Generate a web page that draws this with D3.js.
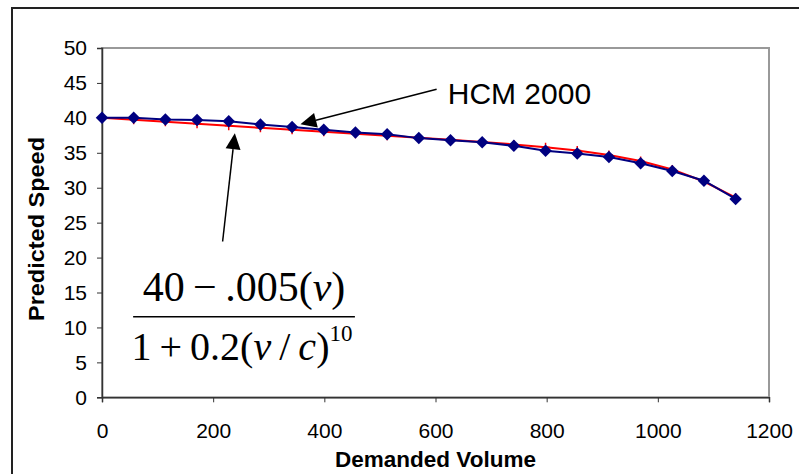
<!DOCTYPE html>
<html>
<head>
<meta charset="utf-8">
<script src="https://cdn.jsdelivr.net/npm/d3@7"></script>
<style>
  body { margin: 0; background: #fff; }
  svg { display: block; }
</style>
</head>
<body>
<svg id="chart"></svg>
<script>
// demanded volume (veh) for every point of both series
const volume = [0, 57, 114, 171, 228, 285, 342, 399, 456, 513, 570, 627, 684, 741, 798, 855, 912, 969, 1026, 1083, 1140]
// HCM 2000 predicted speed (blue diamonds)
const hcm = [40, 40, 39.75, 39.7, 39.5, 39.05, 38.7, 38.3, 37.9, 37.65, 37.1, 36.8, 36.5, 36.0, 35.3, 34.9, 34.4, 33.5, 32.4, 31.0, 28.4]
// fitted curve (red, plus markers)
const fitted = [40, 39.72, 39.43, 39.15, 38.86, 38.58, 38.29, 38.0, 37.72, 37.43, 37.14, 36.85, 36.54, 36.2, 35.81, 35.33, 34.69, 33.82, 32.6, 30.89, 28.58]

const xTicks = [0, 200, 400, 600, 800, 1000, 1200]
const yTicks = [0, 5, 10, 15, 20, 25, 30, 35, 40, 45, 50]

const width = 799
const height = 474
const font = "'Liberation Sans', Arial, sans-serif"
const serif = "'Liberation Serif', 'Times New Roman', serif"

const svg = d3.select('#chart')
    .attr('width', width)
    .attr('height', height)

// outer chart frame (runs off the right and bottom edges)
svg.append('rect')
    .attr('x', 12).attr('y', 8)
    .attr('width', 800).attr('height', 480)
    .attr('fill', '#fff')
    .attr('stroke', '#222')
    .attr('stroke-width', 2)

const x = d3.scaleLinear().domain([0, 1200]).range([102, 769])
const y = d3.scaleLinear().domain([0, 50]).range([397.3, 48])

// plot area border
svg.append('rect')
    .attr('x', x(0)).attr('y', y(50))
    .attr('width', x(1200) - x(0)).attr('height', y(0) - y(50))
    .attr('fill', 'none')
    .attr('stroke', '#999')
    .attr('stroke-width', 2)

const yAxis = svg.append('g')
    .attr('transform', `translate(${x(0)},0)`)
    .call(d3.axisLeft(y).tickValues(yTicks).tickFormat(d3.format('d')).tickSize(5).tickPadding(10))
const xAxis = svg.append('g')
    .attr('transform', `translate(0,${y(0)})`)
    .call(d3.axisBottom(x).tickValues(xTicks).tickFormat(d3.format('d')).tickSize(5).tickPadding(21))

for (const ax of [xAxis, yAxis]) {
    ax.select('.domain').attr('stroke', '#333').attr('stroke-width', 1.5)
    ax.selectAll('.tick line').attr('stroke', '#333').attr('stroke-width', 1)
    ax.selectAll('.tick text')
        .attr('fill', '#000')
        .style('font-family', font)
        .style('font-size', '21px')
}

// axis titles
svg.append('text')
    .attr('x', (x(0) + x(1200)) / 2)
    .attr('y', 467)
    .attr('text-anchor', 'middle')
    .style('font-family', font)
    .style('font-size', '22.5px')
    .style('font-weight', 'bold')
    .text('Demanded Volume')

svg.append('text')
    .attr('transform', `translate(44,229) rotate(-90)`)
    .attr('text-anchor', 'middle')
    .attr('textLength', 184)
    .attr('lengthAdjust', 'spacingAndGlyphs')
    .style('font-family', font)
    .style('font-size', '21.5px')
    .style('font-weight', 'bold')
    .text('Predicted Speed')

const pts = (vals) => volume.map((v, i) => [v, vals[i]])
const line = d3.line().x((d) => x(d[0])).y((d) => y(d[1]))

// fitted curve (drawn first, sits under the HCM series)
svg.append('path')
    .datum(pts(fitted))
    .attr('d', line)
    .attr('fill', 'none')
    .attr('stroke', '#ff0000')
    .attr('stroke-width', 2)

svg.append('g')
    .selectAll('path')
    .data(pts(fitted))
    .join('path')
    .attr('d', (d) => `M${x(d[0]) - 4},${y(d[1])}h8M${x(d[0])},${y(d[1]) - 4.5}v9`)
    .attr('stroke', '#ff0000')
    .attr('stroke-width', 1.5)

// HCM 2000 series
svg.append('path')
    .datum(pts(hcm))
    .attr('d', line)
    .attr('fill', 'none')
    .attr('stroke', '#000080')
    .attr('stroke-width', 2)

svg.append('g')
    .selectAll('path')
    .data(pts(hcm))
    .join('path')
    .attr('d', d3.symbol(d3.symbolSquare, 78))
    .attr('transform', (d) => `translate(${x(d[0])},${y(d[1])}) rotate(45)`)
    .attr('fill', '#000080')

// annotation arrows, given in data units: [fromV, fromS, toV, toS]
const arrows = [
    [602, 44.1, 357, 39.1],
    [217, 22.3, 239, 37.8]
]
const drawArrow = (a) => {
    const x1 = x(a[0]), y1 = y(a[1]), x2 = x(a[2]), y2 = y(a[3])
    const ang = Math.atan2(y2 - y1, x2 - x1)
    const len = 16, half = 7.5
    const bx = x2 - len * Math.cos(ang), by = y2 - len * Math.sin(ang)
    svg.append('line')
        .attr('x1', x1).attr('y1', y1).attr('x2', bx).attr('y2', by)
        .attr('stroke', '#000').attr('stroke-width', 1.5)
    svg.append('path')
        .attr('d', `M${x2},${y2}L${bx + half * Math.sin(ang)},${by - half * Math.cos(ang)}L${bx - half * Math.sin(ang)},${by + half * Math.cos(ang)}Z`)
        .attr('fill', '#000')
}
arrows.forEach(drawArrow)

svg.append('text')
    .attr('x', x(622))
    .attr('y', y(41.98))
    .style('font-family', font)
    .style('font-size', '30px')
    .text('HCM 2000')

// formula label
const fx = (x(56) + x(455)) / 2
const fy = y(11.54)
svg.append('line')
    .attr('x1', x(56)).attr('x2', x(455))
    .attr('y1', fy).attr('y2', fy)
    .attr('stroke', '#000').attr('stroke-width', 1.5)

const num = svg.append('text')
    .attr('x', fx).attr('y', fy - 16)
    .attr('text-anchor', 'middle')
    .style('font-family', serif)
    .style('font-size', '42px')
num.append('tspan').text('40\u2009\u2212\u2009.005(')
num.append('tspan').style('font-style', 'italic').text('v')
num.append('tspan').text(')')

const den = svg.append('text')
    .attr('x', fx - 2).attr('y', fy + 43)
    .attr('text-anchor', 'middle')
    .style('font-family', serif)
    .style('font-size', '40px')
den.append('tspan').text('1\u2009+\u20090.2(')
den.append('tspan').style('font-style', 'italic').text('v')
den.append('tspan').text('\u2009/\u2009')
den.append('tspan').style('font-style', 'italic').text('c')
den.append('tspan').text(')')
den.append('tspan').attr('dy', -19).style('font-size', '23px').text('10')
</script>
</body>
</html>
